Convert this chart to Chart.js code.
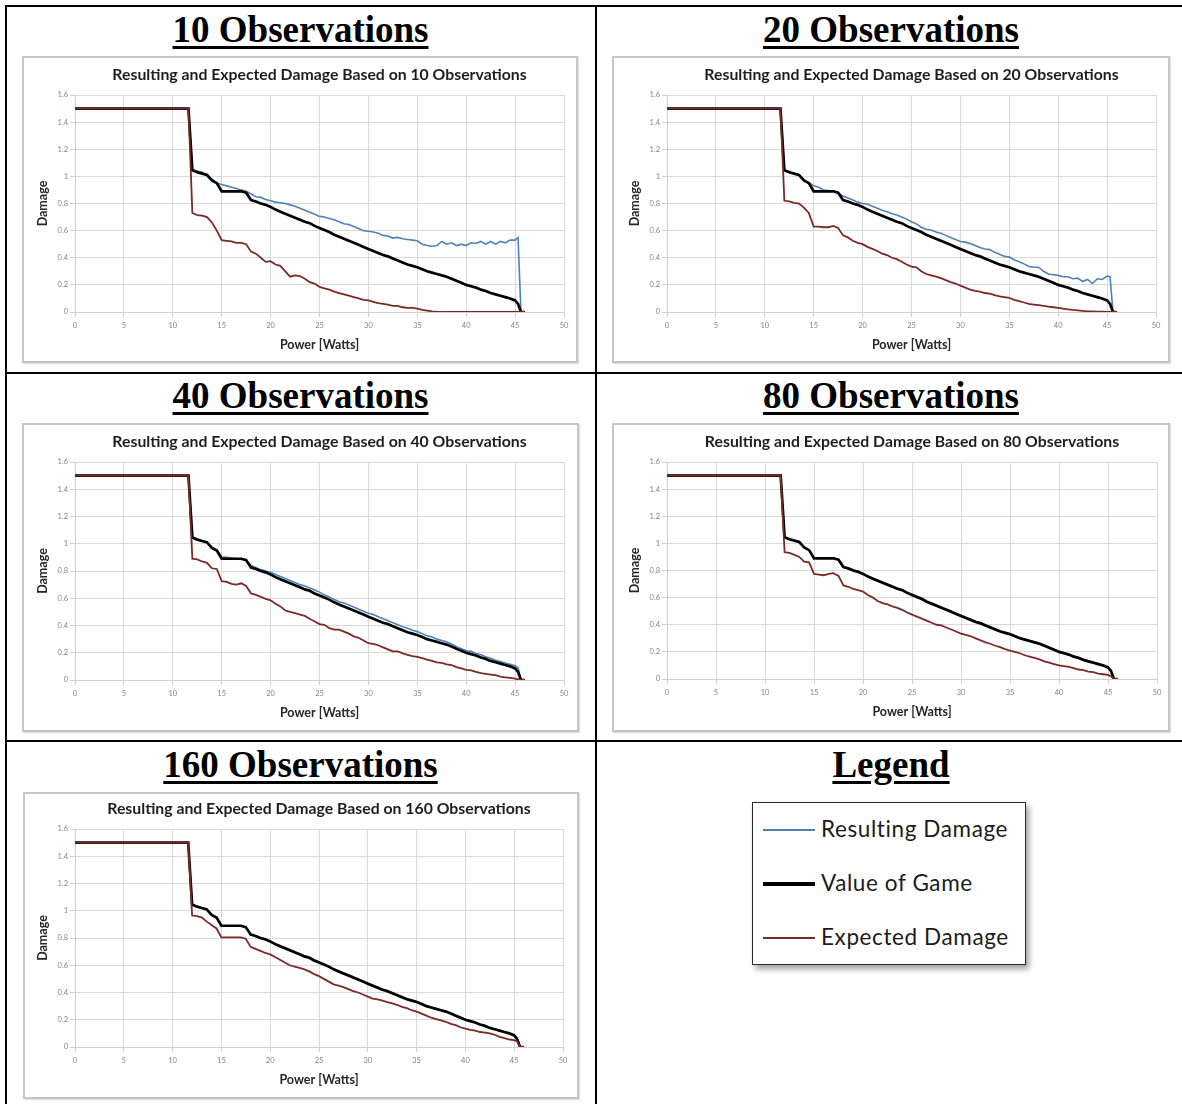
<!DOCTYPE html>
<html><head><meta charset="utf-8">
<script src="https://cdn.jsdelivr.net/npm/chart.js@4.4.1/dist/chart.umd.min.js"></script>
<style>
html,body{margin:0;padding:0;background:#fff;}
body{width:1182px;height:1104px;position:relative;overflow:hidden;}
.ln{position:absolute;background:#000;}
.cellTitle{position:absolute;width:560px;text-align:center;font-family:'Liberation Serif','Times New Roman',serif;font-weight:bold;font-size:37px;line-height:37px;text-decoration:underline;text-decoration-thickness:2.5px;text-underline-offset:4px;color:#000;white-space:nowrap;}
.frame{position:absolute;border:2px solid #c6c6c6;box-sizing:border-box;box-shadow:1px 1px 1px rgba(0,0,0,0.12);}
canvas{position:absolute;}
.legendBox{position:absolute;left:752px;top:802px;width:274px;height:163px;box-sizing:border-box;border:1.5px solid #2a2a2a;background:#fff;box-shadow:3px 4px 6px rgba(0,0,0,0.38);}
.lgLine{position:absolute;left:763px;width:52px;}
.lgText{position:absolute;left:821px;font-family:Lato,'Open Sans',sans-serif;font-size:22.5px;line-height:22px;color:#1c1c1c;white-space:nowrap;letter-spacing:0.6px;}
</style></head><body>

<script>
// ---------------- DATA ----------------
const powerWatts = [0, 11.6,
  12, 12.5, 13, 13.5, 14, 14.5,
  15, 15.5, 16, 16.5, 17, 17.5,
  18, 18.5, 19, 19.5, 20, 20.5,
  21, 21.5, 22, 22.5, 23, 23.5,
  24, 24.5, 25, 25.5, 26, 26.5,
  27, 27.5, 28, 28.5, 29, 29.5,
  30, 30.5, 31, 31.5, 32, 32.5,
  33, 33.5, 34, 34.5, 35, 35.5,
  36, 36.5, 37, 37.5, 38, 38.5,
  39, 39.5, 40, 40.5, 41, 41.5,
  42, 42.5, 43, 43.5, 44, 44.5,
  45, 45.3, 45.6, 46];

const valueOfGame = [1.5, 1.5,
  1.045, 1.03, 1.02, 1.01, 0.97, 0.95,
  0.89, 0.89, 0.89, 0.89, 0.89, 0.88,
  0.825, 0.815, 0.80, 0.79, 0.775, 0.755,
  0.74, 0.725, 0.71, 0.695, 0.68, 0.665,
  0.655, 0.635, 0.62, 0.605, 0.59, 0.57,
  0.555, 0.54, 0.525, 0.51, 0.495, 0.48,
  0.465, 0.45, 0.435, 0.42, 0.41, 0.395,
  0.38, 0.365, 0.35, 0.34, 0.33, 0.315,
  0.30, 0.29, 0.28, 0.27, 0.26, 0.245,
  0.23, 0.215, 0.20, 0.19, 0.18, 0.165,
  0.155, 0.14, 0.13, 0.12, 0.11, 0.10,
  0.085, 0.06, 0, 0];

const resulting10 = [1.5, 1.5,
  1.05, 1.04, 1.03, 1.01, 0.98, 0.95,
  0.94, 0.93, 0.92, 0.91, 0.90, 0.89,
  0.87, 0.85, 0.845, 0.83, 0.82, 0.81,
  0.805, 0.80, 0.79, 0.78, 0.765, 0.75,
  0.735, 0.72, 0.705, 0.70, 0.69, 0.68,
  0.665, 0.65, 0.645, 0.63, 0.615, 0.60,
  0.595, 0.59, 0.58, 0.565, 0.56, 0.545,
  0.55, 0.54, 0.535, 0.53, 0.525, 0.50,
  0.49, 0.485, 0.49, 0.52, 0.50, 0.51,
  0.49, 0.50, 0.49, 0.51, 0.505, 0.52,
  0.50, 0.52, 0.50, 0.52, 0.51, 0.53,
  0.53, 0.55, 0, 0];
const expected10 = [1.5, 1.5,
  0.73, 0.715, 0.71, 0.70, 0.66, 0.60,
  0.53, 0.525, 0.52, 0.51, 0.51, 0.50,
  0.445, 0.43, 0.40, 0.37, 0.375, 0.35,
  0.34, 0.30, 0.26, 0.27, 0.265, 0.245,
  0.22, 0.21, 0.185, 0.175, 0.165, 0.15,
  0.14, 0.13, 0.12, 0.11, 0.10, 0.09,
  0.085, 0.075, 0.065, 0.06, 0.055, 0.045,
  0.045, 0.035, 0.03, 0.03, 0.025, 0.015,
  0.01, 0.005, 0.002, 0, 0, 0,
  0, 0, 0, 0, 0, 0,
  0, 0, 0, 0, 0, 0,
  0, 0, 0, 0];

const resulting20 = [1.5, 1.5,
  1.045, 1.035, 1.02, 1.01, 0.97, 0.955,
  0.93, 0.92, 0.90, 0.895, 0.89, 0.875,
  0.855, 0.84, 0.825, 0.81, 0.80, 0.795,
  0.78, 0.765, 0.75, 0.74, 0.725, 0.715,
  0.70, 0.685, 0.665, 0.65, 0.625, 0.61,
  0.605, 0.59, 0.58, 0.565, 0.55, 0.535,
  0.52, 0.515, 0.505, 0.49, 0.475, 0.465,
  0.46, 0.44, 0.425, 0.41, 0.405, 0.385,
  0.37, 0.355, 0.335, 0.33, 0.33, 0.30,
  0.28, 0.275, 0.27, 0.26, 0.26, 0.245,
  0.25, 0.225, 0.24, 0.21, 0.245, 0.24,
  0.265, 0.26, 0, 0];
const expected20 = [1.5, 1.5,
  0.82, 0.815, 0.805, 0.80, 0.77, 0.73,
  0.63, 0.63, 0.625, 0.625, 0.635, 0.62,
  0.565, 0.55, 0.525, 0.51, 0.50, 0.48,
  0.465, 0.45, 0.43, 0.42, 0.40, 0.39,
  0.37, 0.35, 0.335, 0.33, 0.30, 0.28,
  0.27, 0.26, 0.25, 0.235, 0.22, 0.21,
  0.195, 0.18, 0.165, 0.155, 0.15, 0.14,
  0.135, 0.125, 0.115, 0.11, 0.105, 0.09,
  0.08, 0.07, 0.06, 0.055, 0.05, 0.045,
  0.04, 0.035, 0.03, 0.025, 0.02, 0.015,
  0.012, 0.008, 0.005, 0.004, 0.003, 0.002,
  0.001, 0, 0, 0];

const resulting40 = [1.5, 1.5,
  1.05, 1.035, 1.02, 1.01, 0.97, 0.955,
  0.905, 0.90, 0.895, 0.89, 0.89, 0.88,
  0.84, 0.825, 0.81, 0.80, 0.79, 0.775,
  0.76, 0.745, 0.73, 0.715, 0.70, 0.69,
  0.675, 0.66, 0.645, 0.625, 0.61, 0.59,
  0.575, 0.565, 0.55, 0.535, 0.52, 0.505,
  0.49, 0.48, 0.465, 0.45, 0.435, 0.42,
  0.405, 0.39, 0.38, 0.365, 0.355, 0.34,
  0.325, 0.315, 0.30, 0.29, 0.28, 0.265,
  0.245, 0.23, 0.215, 0.21, 0.195, 0.185,
  0.17, 0.16, 0.145, 0.135, 0.125, 0.115,
  0.105, 0.09, 0, 0];
const expected40 = [1.5, 1.5,
  0.89, 0.885, 0.87, 0.86, 0.82, 0.815,
  0.725, 0.72, 0.705, 0.70, 0.71, 0.69,
  0.635, 0.625, 0.61, 0.595, 0.585, 0.56,
  0.54, 0.51, 0.50, 0.49, 0.48, 0.47,
  0.45, 0.43, 0.41, 0.405, 0.38, 0.37,
  0.37, 0.355, 0.34, 0.32, 0.31, 0.29,
  0.27, 0.265, 0.255, 0.24, 0.225, 0.21,
  0.21, 0.195, 0.185, 0.175, 0.17, 0.16,
  0.15, 0.14, 0.13, 0.125, 0.115, 0.11,
  0.095, 0.085, 0.075, 0.07, 0.06, 0.05,
  0.045, 0.04, 0.035, 0.025, 0.02, 0.015,
  0.01, 0.005, 0, 0];

const resulting80 = [1.5, 1.5,
  1.045, 1.03, 1.02, 1.01, 0.97, 0.95,
  0.895, 0.89, 0.89, 0.89, 0.89, 0.88,
  0.83, 0.82, 0.805, 0.795, 0.78, 0.76,
  0.745, 0.73, 0.715, 0.70, 0.685, 0.67,
  0.66, 0.64, 0.625, 0.61, 0.595, 0.575,
  0.56, 0.545, 0.53, 0.515, 0.50, 0.485,
  0.47, 0.455, 0.44, 0.425, 0.415, 0.40,
  0.385, 0.37, 0.355, 0.345, 0.335, 0.32,
  0.305, 0.295, 0.285, 0.275, 0.265, 0.25,
  0.235, 0.22, 0.205, 0.195, 0.185, 0.17,
  0.16, 0.145, 0.135, 0.125, 0.115, 0.105,
  0.09, 0.065, 0, 0];
const expected80 = [1.5, 1.5,
  0.935, 0.93, 0.915, 0.90, 0.865, 0.86,
  0.775, 0.77, 0.765, 0.775, 0.78, 0.76,
  0.69, 0.68, 0.665, 0.655, 0.645, 0.62,
  0.60, 0.575, 0.56, 0.55, 0.535, 0.525,
  0.51, 0.49, 0.475, 0.46, 0.445, 0.43,
  0.415, 0.40, 0.395, 0.38, 0.365, 0.35,
  0.335, 0.325, 0.315, 0.30, 0.285, 0.27,
  0.26, 0.245, 0.235, 0.22, 0.21, 0.20,
  0.19, 0.175, 0.165, 0.155, 0.145, 0.13,
  0.12, 0.11, 0.10, 0.095, 0.09, 0.08,
  0.07, 0.065, 0.055, 0.05, 0.04, 0.035,
  0.03, 0.02, 0, 0];

const resulting160 = [1.5, 1.5,
  1.045, 1.03, 1.02, 1.01, 0.97, 0.95,
  0.89, 0.89, 0.89, 0.89, 0.89, 0.88,
  0.825, 0.815, 0.80, 0.79, 0.775, 0.76,
  0.745, 0.73, 0.715, 0.70, 0.685, 0.67,
  0.66, 0.64, 0.625, 0.61, 0.59, 0.575,
  0.56, 0.545, 0.53, 0.515, 0.50, 0.485,
  0.47, 0.455, 0.44, 0.425, 0.41, 0.40,
  0.385, 0.37, 0.355, 0.345, 0.335, 0.32,
  0.305, 0.29, 0.28, 0.27, 0.26, 0.25,
  0.235, 0.22, 0.20, 0.19, 0.18, 0.165,
  0.155, 0.14, 0.13, 0.12, 0.11, 0.10,
  0.085, 0.06, 0, 0];
const expected160 = [1.5, 1.5,
  0.965, 0.96, 0.95, 0.92, 0.895, 0.87,
  0.805, 0.805, 0.805, 0.805, 0.805, 0.795,
  0.735, 0.72, 0.705, 0.69, 0.68, 0.66,
  0.64, 0.62, 0.60, 0.59, 0.58, 0.57,
  0.555, 0.535, 0.52, 0.50, 0.48, 0.46,
  0.45, 0.44, 0.425, 0.41, 0.40, 0.385,
  0.37, 0.355, 0.35, 0.34, 0.33, 0.32,
  0.31, 0.295, 0.285, 0.27, 0.26, 0.245,
  0.23, 0.215, 0.205, 0.195, 0.185, 0.17,
  0.16, 0.145, 0.135, 0.125, 0.12, 0.11,
  0.105, 0.10, 0.09, 0.075, 0.065, 0.055,
  0.05, 0.04, 0, 0];

const observationCounts = [10, 20, 40, 80, 160];
const resultingSeries = [resulting10, resulting20, resulting40, resulting80, resulting160];
const expectedSeries = [expected10, expected20, expected40, expected80, expected160];
const seriesNames = ['Resulting Damage', 'Value of Game', 'Expected Damage'];
const cellTitles = ['10 Observations', '20 Observations', '40 Observations', '80 Observations', '160 Observations', 'Legend'];

// ---------------- LAYOUT (page pixels) ----------------
const seriesColors = ['#4f81bd', '#000000', '#7a2a28'];
const seriesWidths = [1.6, 2.7, 1.8];
// frame [x1,y1,x2,y2], plot [x1,y1,x2,y2]
const panelLayout = [
  {frame: [22, 56, 578, 363], plot: [75, 95, 564, 312]},
  {frame: [612, 56, 1170, 363], plot: [667, 95, 1156, 312]},
  {frame: [22, 423, 579, 732], plot: [75, 462, 564, 680]},
  {frame: [612, 423, 1170, 732], plot: [667, 462, 1157, 679]},
  {frame: [23, 792, 579, 1099], plot: [75, 829, 563, 1047]}
];
const cellCenters = [[300.5, 10.7], [891, 10.7], [300.5, 377.3], [891, 377.3], [300.5, 745.7], [891, 745.7]];

function addDiv(cls, css, text) {
  const d = document.createElement('div');
  d.className = cls;
  Object.assign(d.style, css);
  if (text !== undefined) d.textContent = text;
  document.body.appendChild(d);
  return d;
}

// table lines
addDiv('ln', {left: '5px', top: '5px', width: '1177px', height: '2px'});
addDiv('ln', {left: '5px', top: '5px', width: '2px', height: '1099px'});
addDiv('ln', {left: '595px', top: '5px', width: '2px', height: '1099px'});
addDiv('ln', {left: '5px', top: '372px', width: '1177px', height: '2px'});
addDiv('ln', {left: '5px', top: '740px', width: '1177px', height: '2px'});

cellTitles.forEach((t, i) => {
  const [cx, top] = cellCenters[i];
  addDiv('cellTitle', {left: (cx - 280) + 'px', top: top + 'px'}, t);
});

function pts(values) { return powerWatts.map((x, i) => ({x: x, y: values[i]})); }

const FONT = "Lato, 'Open Sans', sans-serif";
const TITLE_SIZE = 15.8;
const AXIS_TITLE_SIZE = 12.5;

panelLayout.forEach((L, i) => {
  const [fx1, fy1, fx2, fy2] = L.frame;
  const [px1, py1, px2, py2] = L.plot;
  addDiv('frame', {left: fx1 + 'px', top: fy1 + 'px', width: (fx2 - fx1) + 'px', height: (fy2 - fy1) + 'px'});
  const cl = fx1 + 2, ct = fy1 + 2, w = fx2 - fx1 - 4, h = fy2 - fy1 - 4;
  const cv = document.createElement('canvas');
  cv.width = w; cv.height = h;
  cv.style.left = cl + 'px'; cv.style.top = ct + 'px';
  cv.style.width = w + 'px'; cv.style.height = h + 'px';
  document.body.appendChild(cv);

  const leftW = px1 - cl;
  const padR = (cl + w) - px2;
  const padB = (ct + h) - py2 - 45;
  const titleLH = TITLE_SIZE * 1.2;
  const titleTop = (py1 - 20 - ct) - titleLH / 2;
  const titleBottom = (py1 - ct) - titleTop - titleLH;
  const axLH = AXIS_TITLE_SIZE * 1.2;
  const yTitlePad = (px1 - 32.5 - cl) - axLH / 2;
  const xTitlePad = 12 - axLH / 2;

  const vals = [resultingSeries[i], valueOfGame, expectedSeries[i]];
  const orders = [3, 2, 1];
  const datasets = vals.map((v, k) => ({
    label: seriesNames[k], data: pts(v), borderColor: seriesColors[k], backgroundColor: seriesColors[k],
    borderWidth: seriesWidths[k], order: orders[k], pointRadius: 0, tension: 0, fill: false
  }));

  new Chart(cv, {
    type: 'line',
    data: {datasets},
    options: {
      responsive: false, animation: false, devicePixelRatio: 1,
      events: [],
      layout: {padding: {left: 0, right: padR, top: 0, bottom: padB}},
      plugins: {
        legend: {display: false}, tooltip: {enabled: false},
        title: {display: true, fullSize: false,
          text: 'Resulting and Expected Damage Based on ' + observationCounts[i] + ' Observations',
          font: {family: FONT, size: TITLE_SIZE, weight: 'bold', lineHeight: 1.2}, color: '#1e1e1e',
          padding: {top: titleTop, bottom: titleBottom}}
      },
      scales: {
        x: {type: 'linear', min: 0, max: 50,
          ticks: {stepSize: 5, font: {family: FONT, size: 7.5}, color: '#858585', padding: 4, maxRotation: 0, autoSkip: false},
          grid: {color: '#d9d9d9', lineWidth: 1, tickLength: 5, tickColor: '#d0d0d0'},
          border: {color: '#cfcfcf'},
          title: {display: true, text: 'Power [Watts]', font: {family: FONT, size: AXIS_TITLE_SIZE, weight: 'bold', lineHeight: 1.2}, color: '#262626', padding: {top: 0, bottom: xTitlePad}},
          afterFit: s => { s.height = 45; }
        },
        y: {type: 'linear', min: 0, max: 1.6,
          ticks: {stepSize: 0.2, font: {family: FONT, size: 7.5}, color: '#858585', padding: 2,
            callback: v => String(Math.round(v * 10) / 10)},
          grid: {color: '#d9d9d9', lineWidth: 1, tickLength: 5, tickColor: '#d0d0d0'},
          border: {color: '#cfcfcf'},
          title: {display: true, text: 'Damage', font: {family: FONT, size: AXIS_TITLE_SIZE, weight: 'bold', lineHeight: 1.2}, color: '#262626', padding: {top: yTitlePad, bottom: 0}},
          afterFit: s => { s.width = leftW; }
        }
      }
    }
  });
});

// legend box (cell 6)
addDiv('legendBox', {});
const legendRowsY = [830, 884, 938];
const legendLineH = [2.5, 3.5, 2.5];
seriesNames.forEach((name, k) => {
  const y = legendRowsY[k];
  addDiv('lgLine', {top: (y - legendLineH[k] / 2) + 'px', height: legendLineH[k] + 'px', background: seriesColors[k]});
  addDiv('lgText', {top: (y - 12) + 'px'}, name);
});
</script>
</body></html>
